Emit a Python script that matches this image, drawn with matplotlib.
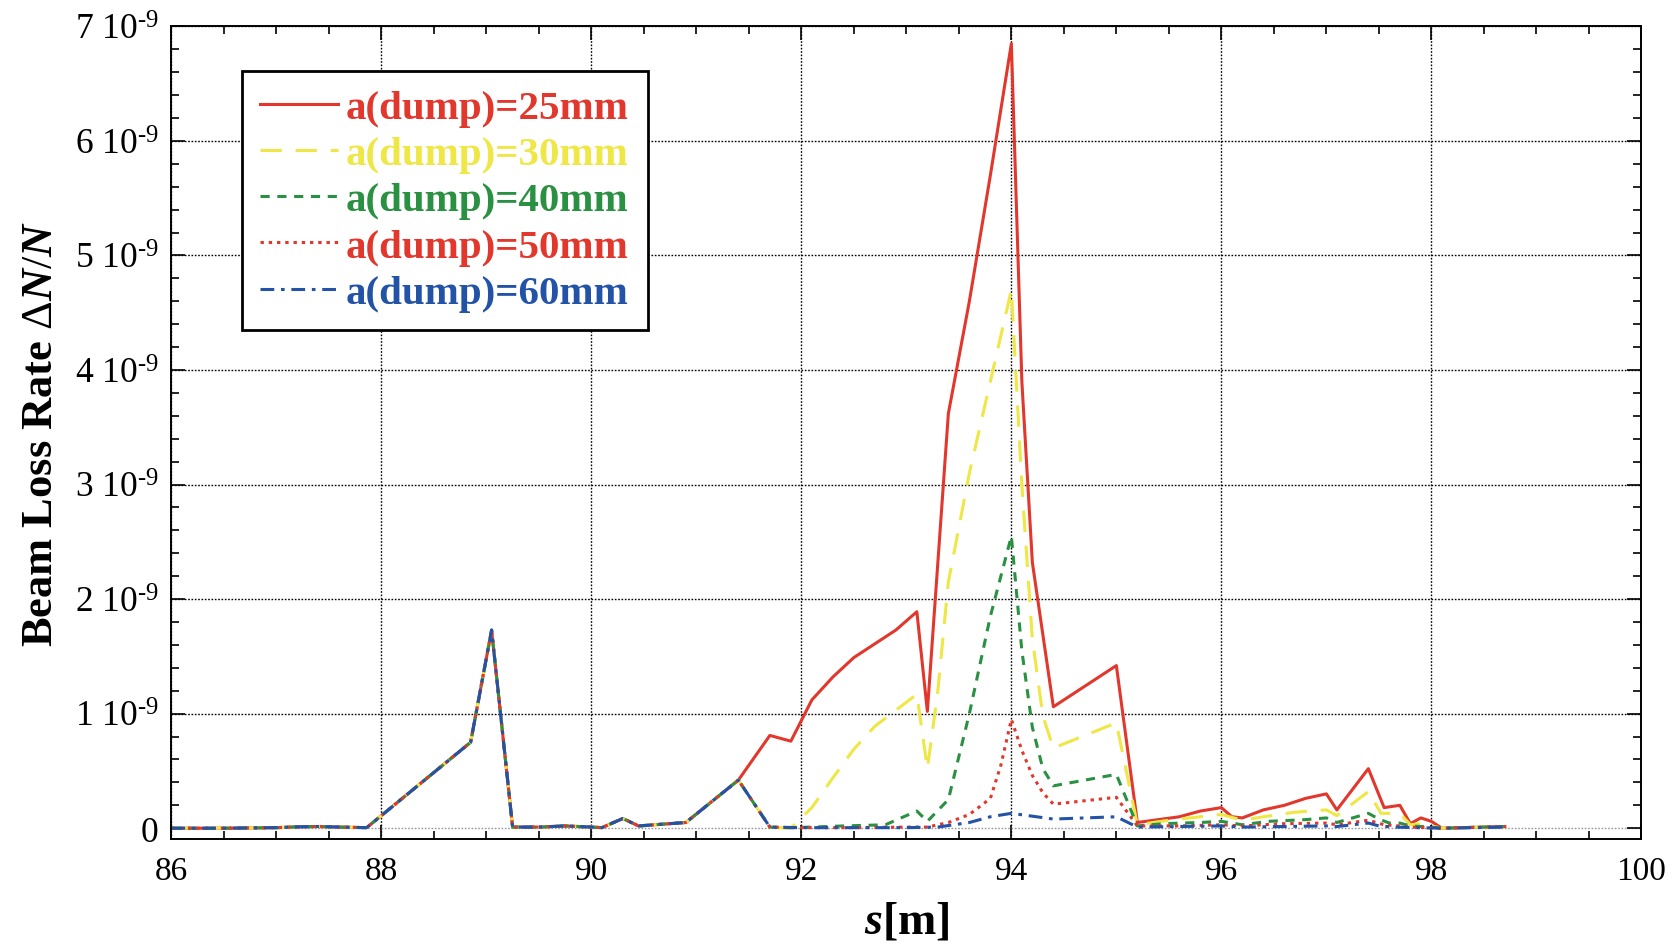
import matplotlib
matplotlib.use("Agg")
import matplotlib.pyplot as plt
from matplotlib.ticker import MultipleLocator, FixedLocator, FuncFormatter

plt.rcParams['font.family'] = ['Liberation Serif', 'DejaVu Serif']
plt.rcParams['mathtext.fontset'] = 'custom'
plt.rcParams['mathtext.rm'] = 'Liberation Serif'
plt.rcParams['mathtext.it'] = 'Liberation Serif:italic:bold'
plt.rcParams['mathtext.bf'] = 'Liberation Serif:bold'

# ---- data (beam loss rate in units of 1e-9) ----
s_common = [86.0, 86.5, 87.0, 87.2, 87.4, 87.6, 87.86, 88.85, 89.05, 89.25, 89.5,
            89.75, 90.0, 90.1, 90.3, 90.45, 90.9, 91.4]
v_common = [0.0, 0.0, 0.005, 0.012, 0.015, 0.01, 0.005, 0.75, 1.73, 0.01, 0.01,
            0.02, 0.01, 0.005, 0.085, 0.02, 0.05, 0.42]

s25 = [91.7, 91.9, 92.1, 92.3, 92.5, 92.7, 92.9, 93.1, 93.2, 93.4, 93.6, 93.8, 94.0,
       94.1, 94.2, 94.4, 95.0, 95.2, 95.6, 95.8, 96.0, 96.1, 96.2, 96.4, 96.6, 96.8,
       97.0, 97.1, 97.4, 97.55, 97.7, 97.8, 97.9, 98.0, 98.1, 98.3, 98.5, 98.7]
v25 = [0.81, 0.76, 1.12, 1.32, 1.49, 1.61, 1.73, 1.89, 1.02, 3.62, 4.6, 5.7, 6.85,
       3.9, 2.32, 1.06, 1.42, 0.05, 0.10, 0.15, 0.18, 0.10, 0.09, 0.16, 0.20, 0.26,
       0.30, 0.16, 0.52, 0.18, 0.20, 0.04, 0.09, 0.06, 0.0, 0.005, 0.01, 0.015]

s30 = [91.7, 91.9, 92.1, 92.3, 92.5, 92.7, 92.9, 93.1, 93.2, 93.3, 93.4, 93.6, 93.8,
       94.0, 94.1, 94.2, 94.3, 94.4, 95.0, 95.2, 95.5, 95.8, 96.0, 96.2, 96.4, 96.7,
       97.0, 97.1, 97.4, 97.52, 97.7, 97.8, 97.9, 98.0, 98.1, 98.3, 98.5, 98.7]
v30 = [0.01, 0.0, 0.18, 0.44, 0.69, 0.89, 1.03, 1.17, 0.52, 1.2, 2.15, 3.1, 3.9,
       4.7, 3.0, 1.65, 0.98, 0.70, 0.92, 0.03, 0.07, 0.10, 0.12, 0.07, 0.10, 0.14,
       0.16, 0.11, 0.32, 0.13, 0.13, 0.03, 0.04, 0.02, 0.0, 0.005, 0.01, 0.015]

s40 = [91.7, 91.9, 92.1, 92.4, 92.8, 93.1, 93.2, 93.4, 93.6, 93.8, 94.0, 94.1, 94.2,
       94.3, 94.4, 95.0, 95.2, 95.45, 95.8, 96.0, 96.2, 96.45, 96.8, 97.0, 97.1,
       97.4, 97.5, 97.6, 97.7, 97.8, 98.0, 98.1, 98.3, 98.5, 98.7]
v40 = [0.01, 0.005, 0.01, 0.02, 0.03, 0.15, 0.06, 0.25, 1.0, 1.85, 2.55, 1.55, 0.88,
       0.52, 0.37, 0.47, 0.02, 0.04, 0.05, 0.06, 0.03, 0.06, 0.075, 0.09, 0.05,
       0.13, 0.08, 0.045, 0.045, 0.02, 0.01, 0.0, 0.005, 0.01, 0.015]

s50 = [91.7, 91.9, 92.5, 93.0, 93.2, 93.4, 93.6, 93.8, 93.9, 94.0, 94.1, 94.2, 94.3,
       94.4, 95.0, 95.2, 95.6, 96.0, 96.2, 96.6, 97.0, 97.1, 97.4, 97.55, 97.7,
       97.8, 98.1, 98.3, 98.5, 98.7]
v50 = [0.01, 0.005, 0.005, 0.01, 0.01, 0.05, 0.12, 0.26, 0.55, 0.95, 0.68, 0.46, 0.31,
       0.21, 0.27, 0.02, 0.02, 0.03, 0.02, 0.04, 0.045, 0.03, 0.07, 0.03, 0.02,
       0.01, 0.0, 0.005, 0.01, 0.015]

s60 = [91.7, 92.0, 93.0, 93.3, 93.6, 93.8, 94.0, 94.4, 95.0, 95.2, 96.0, 96.2, 97.0,
       97.1, 97.4, 97.5, 97.65, 98.1, 98.7]
v60 = [0.01, 0.005, 0.005, 0.01, 0.05, 0.10, 0.13, 0.08, 0.10, 0.01, 0.02, 0.01, 0.02,
       0.015, 0.045, 0.02, 0.01, 0.0, 0.01]

labels = ['a(dump)=25mm', 'a(dump)=30mm', 'a(dump)=40mm', 'a(dump)=50mm', 'a(dump)=60mm']
colors = ['#E2372C', '#EEE745', '#2B9142', '#E2372C', '#2353A6']
styles = ['-', (0, (7, 4.5)), (0, (3, 2.5)), (0, (1.1, 1.6)), (0, (4.5, 2.2, 1.2, 2.2))]
xs = [s25, s30, s40, s50, s60]
ys = [v25, v30, v40, v50, v60]

xticks = [86, 88, 90, 92, 94, 96, 98, 100]
yticks = [0, 1, 2, 3, 4, 5, 6, 7]

fig = plt.figure(figsize=(16.8, 9.45), dpi=100)
ax = fig.add_axes([0.102, 0.111, 0.875, 0.860])

for xx, yy, lab, c, ls in zip(xs, ys, labels, colors, styles):
    ax.plot(s_common + xx, v_common + yy, color=c, linestyle=ls, lw=2.2, label=lab)

ax.set_xlim(86, 100)
ax.set_ylim(-0.095, 7)
ax.xaxis.set_major_locator(FixedLocator(xticks))
ax.xaxis.set_minor_locator(MultipleLocator(0.5))
ax.yaxis.set_major_locator(FixedLocator(yticks))
ax.yaxis.set_minor_locator(MultipleLocator(0.2))
ax.yaxis.set_major_formatter(FuncFormatter(
    lambda v, p: '0' if v == 0 else r'%d 10$^{\text{-9}}$' % round(v)))

ax.grid(True, which='major', color='k', linestyle=(0, (1.2, 1.2)), lw=1.0)
for gl, t in zip(ax.get_ygridlines(), yticks):
    if t == 0:
        gl.set_color('0.6')
ax.set_axisbelow(True)

ax.tick_params(which='both', direction='in', top=True, right=True, width=1.2,
               colors='k')
ax.tick_params(axis='x', labelsize=24)
ax.tick_params(axis='y', labelsize=25.5)
ax.tick_params(which='major', length=10)
ax.tick_params(which='minor', length=6)
ax.tick_params(axis='x', which='major', pad=12)
ax.tick_params(axis='y', which='major', pad=9)
for sp in ax.spines.values():
    sp.set_linewidth(1.4)

ax.set_xlabel('$s$[m]', fontsize=33, fontweight='bold')
ax.set_ylabel(r'Beam Loss Rate $\Delta N/N$', fontsize=32, fontweight='bold')
ax.xaxis.set_label_coords(0.5, -0.075)
ax.yaxis.set_label_coords(-0.075, 0.5)

leg = ax.legend(loc='upper left', bbox_to_anchor=(0.0478, 0.9454), borderaxespad=0,
                fancybox=False, framealpha=1, edgecolor='k',
                prop={'family': 'Liberation Serif', 'weight': 'bold', 'size': 29.5},
                handlelength=1.9, handletextpad=0.2, labelspacing=0.21,
                borderpad=0.45)
leg.get_frame().set_linewidth(2.0)
for txt, c in zip(leg.get_texts(), colors):
    txt.set_color(c)

fig.savefig('out.png', dpi=100)
